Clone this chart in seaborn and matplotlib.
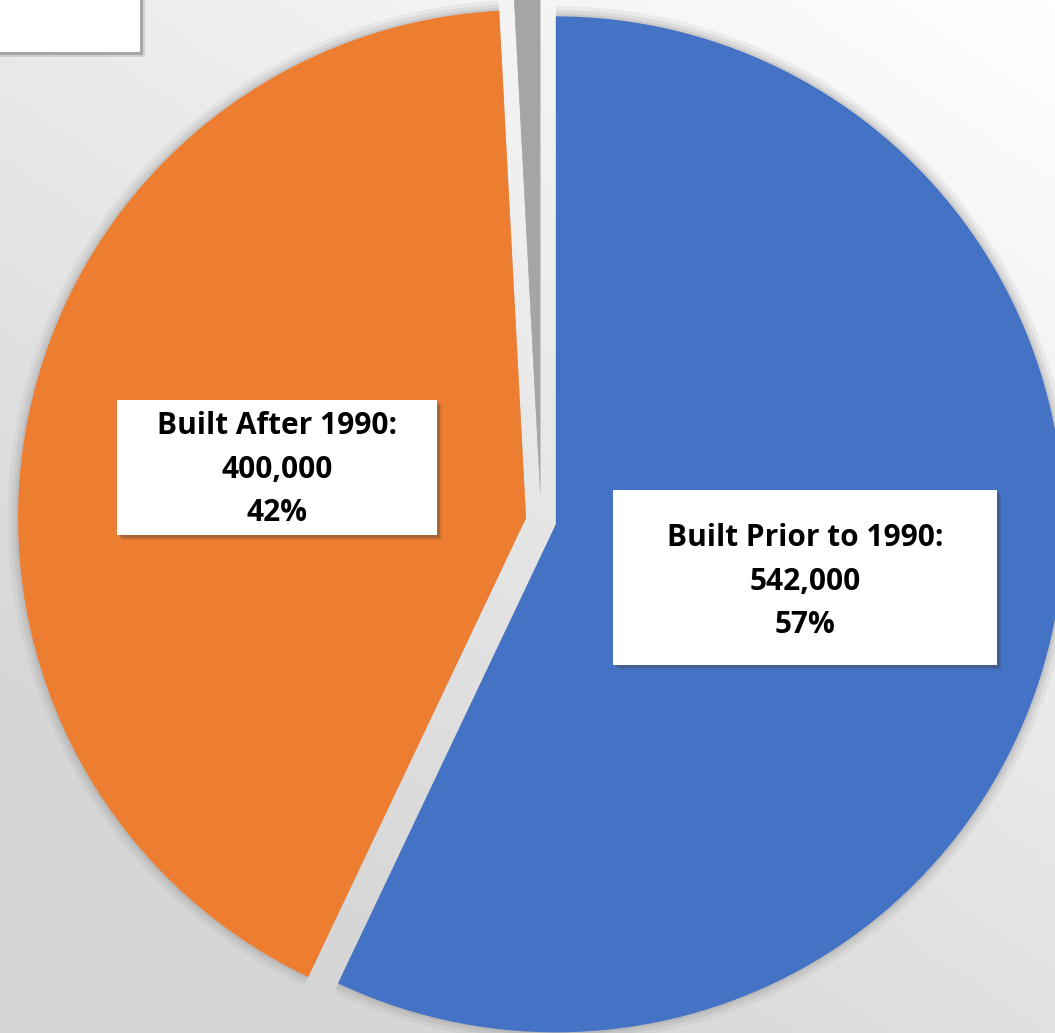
import numpy as np
import matplotlib
matplotlib.use("Agg")
import matplotlib.pyplot as plt
import matplotlib.patches as mpatches
import seaborn as sns

# data
categories = ["Built Prior to 1990", "Built After 1990", "Other"]
counts = [542000, 400000, 8000]
count_labels = ["542,000", "400,000", ""]
pct_labels = ["57%", "42%", ""]
colors = ["#4472C4", "#ED7D31", "#A5A5A5"]

sns.set_theme(style="white")
plt.rcParams['font.family'] = ['Open Sans', 'DejaVu Sans']

W, H = 1055, 1033
fig = plt.figure(figsize=(W / 100, H / 100), dpi=100)
ax = fig.add_axes([0, 0, 1, 1])

# pie centre / radius in pixels of the cropped picture
cx, cy, r = 541, 521, 508
xlim = (-cx / r, (W - cx) / r)
ylim = ((cy - H) / r, cy / r)

# light gray gradient background, white top-right to gray bottom-left
yy, xx = np.mgrid[0:1:200j, 0:1:200j]
grad = np.clip(((1 - xx) * 0.55 + yy * 0.8) / 1.1, 0, 1)
bg = matplotlib.colors.LinearSegmentedColormap.from_list("bg", ["#ffffff", "#d6d6d6"])
ax.imshow(grad, cmap=bg, extent=[xlim[0], xlim[1], ylim[0], ylim[1]],
          origin="upper", aspect="auto", zorder=0)

explode = [0.03, 0.03, 0.05]
# soft shadow pass
for rad, a in [(1.02, 0.12), (1.012, 0.18), (1.005, 0.25)]:
    ax.pie(counts, startangle=90, counterclock=False, explode=explode,
           colors=["#9a9a9a"] * 3, radius=rad,
           wedgeprops=dict(linewidth=0, alpha=a, zorder=1))
wedges, _ = ax.pie(counts, startangle=90, counterclock=False, explode=explode,
                   colors=colors, wedgeprops=dict(linewidth=0, zorder=2))

ax.set_xlim(*xlim)
ax.set_ylim(*ylim)
ax.set_aspect("auto")
ax.axis("off")


def px(x, y):
    return (x - cx) / r, (cy - y) / r


def label_box(x0, y0, x1, y1, text, dy=0):
    (ax0, ay0) = px(x0, y1)
    w, h = (x1 - x0) / r, (y1 - y0) / r
    for off, a in [(5, 0.15), (3, 0.3)]:
        ax.add_patch(mpatches.Rectangle((ax0 + off / r, ay0 - off / r), w, h, facecolor="#444444",
                                        alpha=a, linewidth=0, zorder=3))
    ax.add_patch(mpatches.Rectangle((ax0, ay0), w, h, facecolor="white", linewidth=0, zorder=4))
    tx, ty = px((x0 + x1) / 2, (y0 + y1) / 2 + dy)
    ax.text(tx, ty, text, ha="center", va="center", fontsize=21.5, fontweight="bold",
            color="black", linespacing=1.58, zorder=5)


label_box(613, 490, 997, 665, f"{categories[0]}:\n{count_labels[0]}\n{pct_labels[0]}", dy=4)
label_box(117, 400, 437, 535, f"{categories[1]}:\n{count_labels[1]}\n{pct_labels[1]}", dy=2)

# cropped legend box top-left
label_box(-20, -20, 140, 52, "")

fig.savefig("out.png", dpi=100)
